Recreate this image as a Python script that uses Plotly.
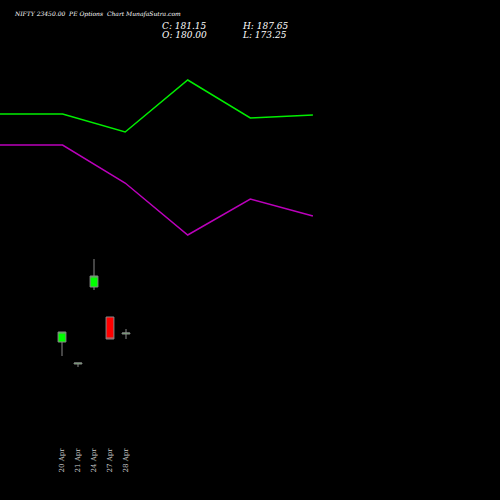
import plotly.graph_objects as go

# candle data (chart units)
dates = ["20 Apr", "21 Apr", "24 Apr", "27 Apr", "28 Apr"]
opens = [104, 82, 159, 129, 112]
highs = [114, 83, 187, 129, 117]
lows = [90, 79, 156, 107, 107]
closes = [114, 83, 170, 107, 113]

# indicator lines
line_green = [332, 332, 314, 366, 328, 331]
line_purple = [301, 301, 263, 211, 247, 230]

fig = go.Figure()
fig.add_trace(go.Candlestick(
    x=list(range(len(dates))), open=opens, high=highs, low=lows, close=closes,
    increasing=dict(line=dict(color="#888888", width=1), fillcolor="#00ff00"),
    decreasing=dict(line=dict(color="#888888", width=1), fillcolor="#ff0000"),
    whiskerwidth=0, showlegend=False))
fig.add_trace(go.Scatter(x=list(range(6)), y=line_green, xaxis="x2", mode="lines",
                         line=dict(color="#00ee00", width=1.5), showlegend=False))
fig.add_trace(go.Scatter(x=list(range(6)), y=line_purple, xaxis="x2", mode="lines",
                         line=dict(color="#bb00bb", width=1.5), showlegend=False))

serif = dict(family="DejaVu Serif", color="white")
labels = [
    (12, 14, "NIFTY 23450.00  PE Options  Chart MunafaSutra.com", 6),
    (160, 26, "C: 181.15", 9),
    (160, 35, "O: 180.00", 9),
    (240, 26, "H: 187.65", 9),
    (240, 35, "L: 173.25", 9),
]
annotations = [dict(x=px / 500, y=1 - py / 500, xref="paper", yref="paper", text=f"<i>{t}</i>",
                    showarrow=False, xanchor="left", yanchor="middle", font=dict(serif, size=s))
               for px, py, t, s in labels]

fig.update_layout(
    width=500, height=500, paper_bgcolor="black", plot_bgcolor="black",
    margin=dict(l=0, r=0, t=0, b=0),
    xaxis=dict(range=[-3.875, 27.375], tickvals=list(range(5)), ticktext=dates,
               tickangle=-90, tickfont=dict(family="DejaVu Serif", size=7, color="#cccccc"),
               showgrid=False, zeroline=False, showline=False, rangeslider=dict(visible=False)),
    xaxis2=dict(range=[0, 7.99], overlaying="x", visible=False),
    yaxis=dict(range=[0, 446], domain=[0.108, 1], visible=False),
    annotations=annotations,
)

fig.write_html("out.html", config={"displayModeBar": False},
               post_script="document.body.style.margin='0';document.body.style.background='black';")
